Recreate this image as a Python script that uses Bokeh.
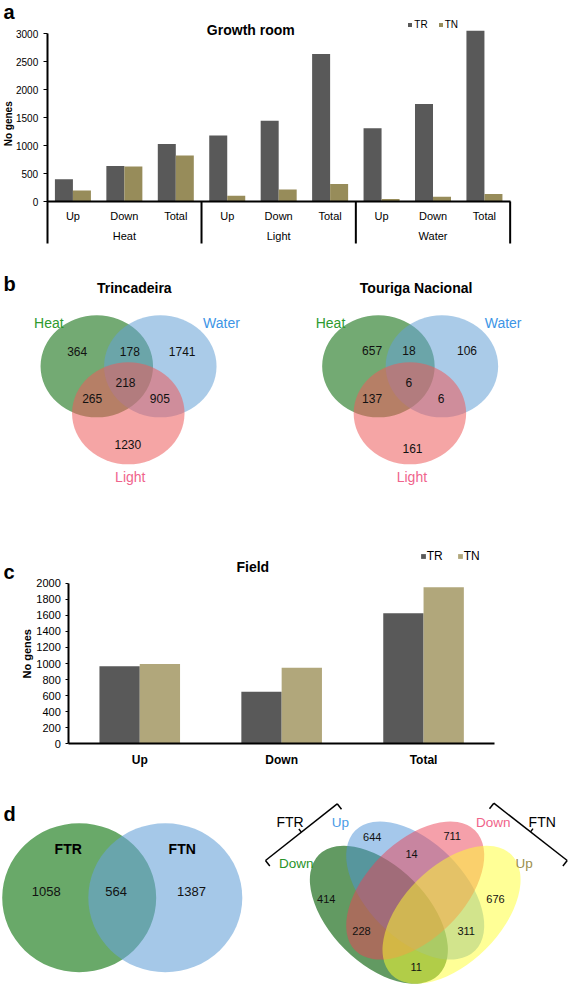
import math
from bokeh.plotting import figure
from bokeh.layouts import column
from bokeh.models import (Range1d, FixedTicker, Label, Legend, LegendItem,
                          ColumnDataSource)
from bokeh.core.properties import value
from bokeh.embed import file_html
from bokeh.resources import INLINE

# ======================= DATA =======================
# (a) Growth room
gr_groups = ["Heat", "Light", "Water"]
gr_subgroups = ["Up", "Down", "Total"]
gr_TR = [400, 635, 1030, 1180, 1445, 2640, 1310, 1745, 3055]
gr_TN = [197, 626, 822, 102, 213, 315, 45, 87, 136]
gr_yticks = [0, 500, 1000, 1500, 2000, 2500, 3000]
series_names = ["TR", "TN"]

# (b) three-set Venn diagrams
venn3_titles = ["Trincadeira", "Touriga Nacional"]
venn3_sets = ["Heat", "Water", "Light"]
venn3_regions = ["H", "HW", "W", "HWL", "HL", "WL", "L"]
trincadeira_counts = [364, 178, 1741, 218, 265, 905, 1230]
touriga_counts = [657, 18, 106, 6, 137, 6, 161]

# (c) Field
field_categories = ["Up", "Down", "Total"]
field_TR = [965, 648, 1625]
field_TN = [995, 946, 1950]
field_yticks = [0, 200, 400, 600, 800, 1000, 1200, 1400, 1600, 1800, 2000]

# (d) two-set and four-set Venn diagrams
venn2_sets = ["FTR", "FTN"]
venn2_counts = [1058, 564, 1387]          # FTR only, both, FTN only
venn4_groups = ["FTR", "FTN"]
venn4_sets = ["Down", "Up", "Down", "Up"]  # FTR Down, FTR Up, FTN Down, FTN Up
venn4_regions = ["A", "B", "C", "D", "BC", "AC", "BD", "AD"]
venn4_counts = [414, 644, 711, 676, 14, 228, 311, 11]

# ======================= STYLE / LAYOUT =======================
FONT = "Liberation Sans"
W = 568
TR_COLOR = "#595959"
TN_A_COLOR = "#978c5a"
TN_C_COLOR = "#b1a77b"


def base_fig(width, height, **kw):
    p = figure(width=width, height=height, output_backend="svg",
               toolbar_location=None, title=None, min_border=0, **kw)
    p.outline_line_color = None
    p.background_fill_color = None
    p.border_fill_color = None
    return p


def add_label(p, H, x, row, text, size, bold=False, align="center",
              baseline="middle", angle=0.0, color="black"):
    p.add_layout(Label(x=x, y=H - row, x_units="screen", y_units="screen",
                       text=text, text_font=FONT, text_font_size=size,
                       text_font_style="bold" if bold else "normal",
                       text_align=align, text_baseline=baseline, angle=angle,
                       text_color=color))


def add_texts(p, xs, ys, texts, size, color="black", bold=False, align="center",
              baseline="middle"):
    p.text(x=xs, y=ys, text=texts, text_font=value(FONT),
           text_font_size=value(size),
           text_font_style=value("bold" if bold else "normal"),
           text_align=value(align), text_baseline=value(baseline),
           text_color=color)


def make_legend(items, loc, size, glyph, spacing, standoff):
    return Legend(items=items, orientation="horizontal", location=loc,
                  padding=0, margin=0, spacing=spacing, label_standoff=standoff,
                  glyph_width=glyph, glyph_height=glyph, label_height=glyph,
                  label_width=0,
                  label_text_font=FONT, label_text_font_size=size,
                  label_text_color="black", label_text_baseline="middle",
                  border_line_color=None, background_fill_color=None,
                  background_fill_alpha=0)


def style_axis(ax, size, bold=False, tick_out=0, standoff=5):
    ax.axis_line_width = 2
    ax.axis_line_color = "black"
    ax.major_tick_out = tick_out
    ax.major_tick_in = 0
    if tick_out == 0:
        ax.major_tick_line_color = None
    ax.minor_tick_line_color = None
    ax.major_label_standoff = standoff
    ax.major_label_text_font = FONT
    ax.major_label_text_font_size = size
    ax.major_label_text_font_style = "bold" if bold else "normal"
    ax.major_label_text_color = "black"


# ---------------- (a) Growth room : rows 0..250 ----------------
A_H = 250
A_X0, A_CW = 46.7, 51.44           # pixel of first category edge, category width
A_ZERO, A_PPU = 201.0, 167.7 / 3000  # row of the zero line, pixels per gene
A_LINE_END = 243.0                 # row where the group box lines end


def a_u(px):
    return (px - A_X0) / A_CW


def a_v(row):
    return (A_ZERO - row) / A_PPU


n_a = len(gr_TR)
pa = base_fig(W, A_H, x_range=Range1d(a_u(0), a_u(W)),
              y_range=Range1d(a_v(A_H), a_v(0)))
bw_a = 0.35
centers_a = [i + 0.5 for i in range(n_a)]
src_a = ColumnDataSource(dict(xtr=[c - bw_a / 2 for c in centers_a],
                              xtn=[c + bw_a / 2 for c in centers_a],
                              tr=gr_TR, tn=gr_TN))
ra1 = pa.vbar(x="xtr", top="tr", width=bw_a, source=src_a,
              fill_color=TR_COLOR, line_color=None)
ra2 = pa.vbar(x="xtn", top="tn", width=bw_a, source=src_a,
              fill_color=TN_A_COLOR, line_color=None)

nsub = len(gr_subgroups)
bounds = [nsub * (i + 1) for i in range(len(gr_groups))]
pa.segment(x0=bounds, y0=[0] * len(bounds), x1=bounds,
           y1=[a_v(A_LINE_END)] * len(bounds), line_color="black", line_width=2)
add_texts(pa, [nsub * i + nsub / 2 for i in range(len(gr_groups))],
          [a_v(235.7)] * len(gr_groups), gr_groups, "11px")

xa = pa.xaxis[0]
xa.fixed_location = 0
xa.bounds = (0, n_a)
xa.ticker = FixedTicker(ticks=centers_a, minor_ticks=[])
xa.major_label_overrides = {c: gr_subgroups[i % nsub] for i, c in enumerate(centers_a)}
style_axis(xa, "11px", tick_out=0, standoff=8)

ya = pa.yaxis[0]
ya.fixed_location = 0
ya.bounds = (a_v(A_LINE_END), gr_yticks[-1])
ya.ticker = FixedTicker(ticks=gr_yticks, minor_ticks=[])
style_axis(ya, "10px", tick_out=4, standoff=5)
pa.xgrid.grid_line_color = None
pa.ygrid.grid_line_color = None

add_label(pa, A_H, 3, 11.7, "a", "20px", bold=True, align="left", baseline="alphabetic")
add_label(pa, A_H, 250.3, 29.3, "Growth room", "14px", bold=True)
add_label(pa, A_H, 8.3, 123.3, "No genes", "10px", bold=True, angle=math.pi / 2)
pa.add_layout(make_legend([LegendItem(label=series_names[0], renderers=[ra1]),
                           LegendItem(label=series_names[1], renderers=[ra2])],
                          (407.3, A_H - 30), "10px", 5, 10, 2))

# ---------------- (b) three-set Venns : rows 250..500 ----------------
B_H = 250
B_BASE = 500                     # data y = B_BASE - reference row
pb = base_fig(W, B_H, x_range=Range1d(0, W), y_range=Range1d(0, B_H),
              x_axis_type=None, y_axis_type=None)
v3_centers = [(96.3, 365.8), (159.8, 365.8), (127.8, 412.8)]
v3_w, v3_h = 112.5, 102
v3_fill = ["#006400", "#64a0d5", "#ed5b5b"]
v3_label_color = ["#2e9a2e", "#3d95e6", "#f0648c"]
v3_label_pos = [(48.4, 322.7), (221.0, 322.7), (129.8, 476.7)]
v3_offsets = [0, 281.6]
v3_title_pos = [(133.8, 287.7), (415.6, 287.7)]
v3_num_pos = [
    [(76.7, 350.7), (129.3, 350.7), (181.7, 350.7), (125.0, 381.7),
     (91.7, 398.3), (159.3, 398.3), (127.3, 444.3)],
    [(371.6, 350.0), (408.4, 350.0), (466.5, 350.0), (408.4, 381.7),
     (371.6, 397.7), (440.7, 397.7), (412.0, 447.7)],
]
v3_counts = [trincadeira_counts, touriga_counts]
for k, off in enumerate(v3_offsets):
    for (cx, cy), col in zip(v3_centers, v3_fill):
        pb.ellipse(x=cx + off, y=B_BASE - cy, width=v3_w, height=v3_h,
                   fill_color=col, fill_alpha=0.55, line_color=None)
    for (lx, ly), name, col in zip(v3_label_pos, venn3_sets, v3_label_color):
        add_texts(pb, [lx + off], [B_BASE - ly], [name], "14px", color=col)
    xs = [q[0] for q in v3_num_pos[k]]
    ys = [B_BASE - q[1] for q in v3_num_pos[k]]
    add_texts(pb, xs, ys, [str(c) for c in v3_counts[k]], "12px", color="#111111")
    add_texts(pb, [v3_title_pos[k][0]], [B_BASE - v3_title_pos[k][1]],
              [venn3_titles[k]], "14px", bold=True)
add_texts(pb, [3], [B_BASE - 283.3], ["b"], "20px", bold=True, align="left",
          baseline="alphabetic")

# ---------------- (c) Field : rows 500..771 ----------------
C_H = 271
C_REF = 500
C_X0, C_CW = 68.3, 141.9
C_ZERO, C_PPU = 743.3 - C_REF, 160.6 / 2000


def c_u(px):
    return (px - C_X0) / C_CW


def c_v(row):
    return (C_ZERO - row) / C_PPU


n_c = len(field_categories)
pc = base_fig(W, C_H, x_range=Range1d(c_u(0), c_u(W)),
              y_range=Range1d(c_v(C_H), c_v(0)))
bw_c = 0.284
centers_c = [i + 0.5 for i in range(n_c)]
src_c = ColumnDataSource(dict(xtr=[c - bw_c / 2 for c in centers_c],
                              xtn=[c + bw_c / 2 for c in centers_c],
                              tr=field_TR, tn=field_TN))
rc1 = pc.vbar(x="xtr", top="tr", width=bw_c, source=src_c,
              fill_color=TR_COLOR, line_color=None)
rc2 = pc.vbar(x="xtn", top="tn", width=bw_c, source=src_c,
              fill_color=TN_C_COLOR, line_color=None)
xc = pc.xaxis[0]
xc.fixed_location = 0
xc.bounds = (0, n_c)
xc.ticker = FixedTicker(ticks=centers_c, minor_ticks=[])
xc.major_label_overrides = {c: field_categories[i] for i, c in enumerate(centers_c)}
style_axis(xc, "12px", bold=True, tick_out=0, standoff=9)
yc = pc.yaxis[0]
yc.fixed_location = 0
yc.bounds = (field_yticks[0], field_yticks[-1])
yc.ticker = FixedTicker(ticks=field_yticks, minor_ticks=[])
style_axis(yc, "11px", tick_out=3, standoff=5)
pc.xgrid.grid_line_color = None
pc.ygrid.grid_line_color = None
add_label(pc, C_H, 3, 571.7 - C_REF, "c", "20px", bold=True, align="left",
          baseline="alphabetic")
add_label(pc, C_H, 252.3, 566.7 - C_REF, "Field", "14px", bold=True)
add_label(pc, C_H, 26, 653.3 - C_REF, "No genes", "11px", bold=True, angle=math.pi / 2)
pc.add_layout(make_legend([LegendItem(label=series_names[0], renderers=[rc1]),
                           LegendItem(label=series_names[1], renderers=[rc2])],
                          (419.7, C_H - (557.3 - C_REF + 6)), "12px", 6, 14, 1))

# ---------------- (d) Venns : rows 771..986 ----------------
D_H = 215
D_BASE = 986                      # data y = D_BASE - reference row
pd_ = base_fig(W, D_H, x_range=Range1d(0, W), y_range=Range1d(0, D_H),
               x_axis_type=None, y_axis_type=None)
add_texts(pd_, [3], [D_BASE - 813.3], ["d"], "20px", bold=True, align="left",
          baseline="alphabetic")
# two-set
v2_centers = [(78.7, 897.2), (164.8, 897.2)]
v2_fill = ["#057005", "#69a3d9"]
for (cx, cy), col in zip(v2_centers, v2_fill):
    pd_.ellipse(x=cx, y=D_BASE - cy, width=154, height=149, fill_color=col,
                fill_alpha=0.6, line_color=None)
add_texts(pd_, [67.7, 181.7], [D_BASE - 848.3] * 2, venn2_sets, "14px", bold=True)
add_texts(pd_, [45.7, 115.7, 191.0], [D_BASE - 890.7] * 3,
          [str(c) for c in venn2_counts], "13px", color="#111111")
# four-set
sc = 242.2
ox, oy = 414.7, 821.0


def q2d(u, v):
    return ox + (u - 0.5) * sc, D_BASE - (oy + (0.855 - v) * sc)


v4_ell = [(0.35, 0.47, -math.pi / 4), (0.5, 0.57, -math.pi / 4),
          (0.5, 0.57, math.pi / 4), (0.65, 0.47, math.pi / 4)]
v4_fill = ["#1f6f1f", "#4b91d7", "#eb4155", "#ffff2d"]
v4_alpha = [0.7, 0.5, 0.5, 0.5]
for (u, v, ang), col, al in zip(v4_ell, v4_fill, v4_alpha):
    ex, ey = q2d(u, v)
    pd_.ellipse(x=ex, y=ey, width=0.7 * sc, height=0.4 * sc, angle=ang,
                fill_color=col, fill_alpha=al, line_color=None)
v4_num_pos = [(325.7, 898.3), (371.7, 836.0), (451.7, 835.0), (495.0, 898.3),
              (411.0, 853.3), (361.0, 930.7), (465.7, 930.7), (415.7, 966.0)]
add_texts(pd_, [p[0] for p in v4_num_pos], [D_BASE - p[1] for p in v4_num_pos],
          [str(c) for c in venn4_counts], "11px", color="#111111")
v4_set_pos = [(295.8, 862.5), (340.0, 821.7), (492.8, 821.7), (523.7, 862.5)]
v4_set_col = ["#2a932a", "#4a9be6", "#f0648a", "#9b8f4e"]
for (lx, ly), name, col in zip(v4_set_pos, venn4_sets, v4_set_col):
    add_texts(pd_, [lx], [D_BASE - ly], [name], "13.5px", color=col)
add_texts(pd_, [289.5, 541.7], [D_BASE - 821.7] * 2, venn4_groups, "14px")
# brackets grouping the FTR / FTN sets
br = [
    ((265.0, 860.0), (336.7, 803.3), (4.3, 5.5), (-2.5, -3.2)),
    ((493.3, 802.7), (566.7, 860.0), (-4.3, 5.5), (2.5, -3.2)),
]
x0s, y0s, x1s, y1s = [], [], [], []
for (ax_, ay_), (bx_, by_), (hx, hy), (mx, my) in br:
    mxp, myp = (ax_ + bx_) / 2, (ay_ + by_) / 2
    segs = [((ax_, ay_), (bx_, by_)),
            ((ax_, ay_), (ax_ + hx, ay_ + hy)),
            ((bx_, by_), (bx_ + hx, by_ + hy)),
            ((mxp, myp), (mxp + mx, myp + my))]
    for (sx0, sy0), (sx1, sy1) in segs:
        x0s.append(sx0); y0s.append(D_BASE - sy0)
        x1s.append(sx1); y1s.append(D_BASE - sy1)
pd_.segment(x0=x0s, y0=y0s, x1=x1s, y1=y1s, line_color="black", line_width=1.5)

layout = column(pa, pb, pc, pd_, spacing=0)
open("out.html", "w").write(file_html(layout, INLINE))
